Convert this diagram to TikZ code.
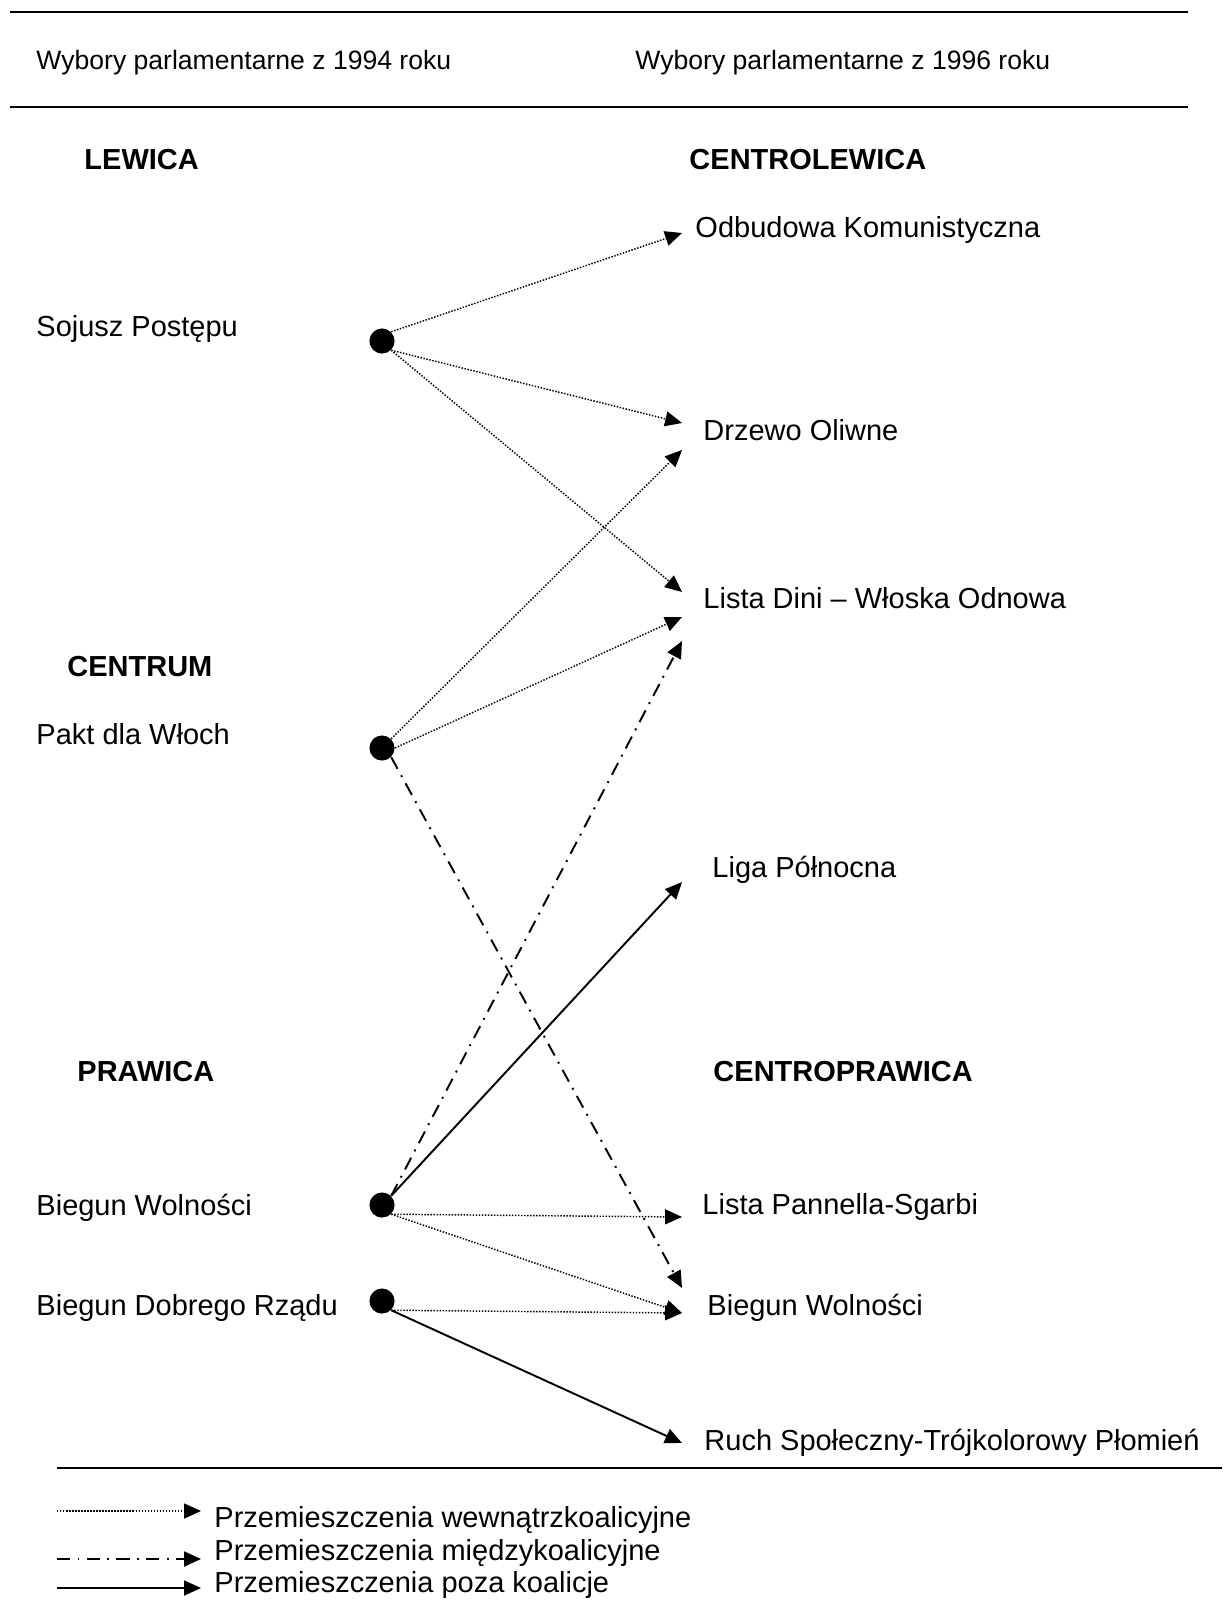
\documentclass[tikz,border=0pt]{standalone}
\usepackage{fontspec}
\setmainfont{Liberation Sans}
\usetikzlibrary{arrows.meta}

\begin{document}
\begin{tikzpicture}[x=0.414pt, y=-0.414pt,
	head/.style={anchor=west, inner sep=0pt, font=\fontsize{11}{13}\selectfont},
	party/.style={anchor=west, inner sep=0pt, font=\fontsize{12}{14}\selectfont},
	bloc/.style={anchor=west, inner sep=0pt, font=\fontsize{12}{14}\selectfont\bfseries},
	dot/.style={circle, fill=black, inner sep=0pt, minimum size=10.4pt},
	rule/.style={line width=0.8pt},
	inside/.style={-{Triangle[length=7pt,width=6.2pt]}, line width=0.6pt, dash pattern=on 0.6pt off 0.65pt},
	between/.style={-{Triangle[length=7pt,width=6.2pt]}, line width=0.8pt, dash pattern=on 5.5pt off 3pt on 0.8pt off 3pt},
	outside/.style={-{Triangle[length=7pt,width=6.2pt]}, line width=0.8pt}]
	\useasboundingbox (0,0) rectangle (1222,1601);

	\draw[rule] (10,12) -- (1188,12);
	\draw[rule] (10,107) -- (1188,107);
	\draw[rule] (57,1468) -- (1222,1468);

	\node[head](year1) at (36,63){Wybory parlamentarne z 1994 roku};
	\node[head](year2) at (635,63){Wybory parlamentarne z 1996 roku};

	\node[bloc](lewica) at (84,160){LEWICA};
	\node[bloc](centrum) at (67,667){CENTRUM};
	\node[bloc](prawica) at (77,1072){PRAWICA};
	\node[bloc](centrolewica) at (689,160){CENTROLEWICA};
	\node[bloc](centroprawica) at (713,1072){CENTROPRAWICA};

	\node[party](sojusz) at (36,329){Sojusz Postępu};
	\node[party](pakt) at (36,734){Pakt dla Włoch};
	\node[party](biegunL) at (36,1208){Biegun Wolności};
	\node[party](dobryL) at (36,1308){Biegun Dobrego Rządu};

	\node[party](odbudowa) at (695,230){Odbudowa Komunistyczna};
	\node[party](drzewo) at (703,430){Drzewo Oliwne};
	\node[party](dini) at (703,598){Lista Dini – Włoska Odnowa};
	\node[party](liga) at (712,870){Liga Północna};
	\node[party](pannella) at (702,1207){Lista Pannella-Sgarbi};
	\node[party](biegunR) at (707,1308){Biegun Wolności};
	\node[party](ruch) at (704,1443){Ruch Społeczny-Trójkolorowy Płomień};

	\node[dot](one) at (382,341){};
	\node[dot](two) at (382,748){};
	\node[dot](three) at (382,1205){};
	\node[dot](four) at (382,1301){};

	\coordinate (odb) at (682,233);
	\coordinate (drz1) at (682,423);
	\coordinate (drz2) at (682,450);
	\coordinate (dini1) at (682,592);
	\coordinate (dini2) at (682,617);
	\coordinate (dini3) at (682,641);
	\coordinate (liga1) at (682,882);
	\coordinate (pann1) at (682,1217);
	\coordinate (bw1) at (682,1288);
	\coordinate (bw2) at (682,1313);
	\coordinate (ruch1) at (682,1443);

	\draw[inside] (one.north east) -- (odb);
	\draw[inside] (one.south east) -- (drz1);
	\draw[inside] (one.south east) -- (dini1);
	\draw[inside] (two.north east) -- (drz2);
	\draw[inside] (two.east) -- (dini2);
	\draw[between] (two.south east) -- (bw1);
	\draw[between] (three.north east) -- (dini3);
	\draw[outside] (three.north east) -- (liga1);
	\draw[inside] (three.south east) -- (pann1);
	\draw[inside] (three.south east) -- (bw2);
	\draw[inside] (four.south east) -- (bw2);
	\draw[outside] (four.south east) -- (ruch1);

	\node[party](leg1) at (214,1520){Przemieszczenia wewnątrzkoalicyjne};
	\node[party](leg2) at (214,1553){Przemieszczenia międzykoalicyjne};
	\node[party](leg3) at (214,1585){Przemieszczenia poza koalicje};
	\coordinate (leg1a) at (57,1511);
	\coordinate (leg1b) at (201,1511);
	\coordinate (leg2a) at (57,1559);
	\coordinate (leg2b) at (201,1559);
	\coordinate (leg3a) at (57,1588);
	\coordinate (leg3b) at (201,1588);
	\draw[inside] (leg1a) -- (leg1b);
	\draw[between] (leg2a) -- (leg2b);
	\draw[outside] (leg3a) -- (leg3b);
\end{tikzpicture}
\end{document}
